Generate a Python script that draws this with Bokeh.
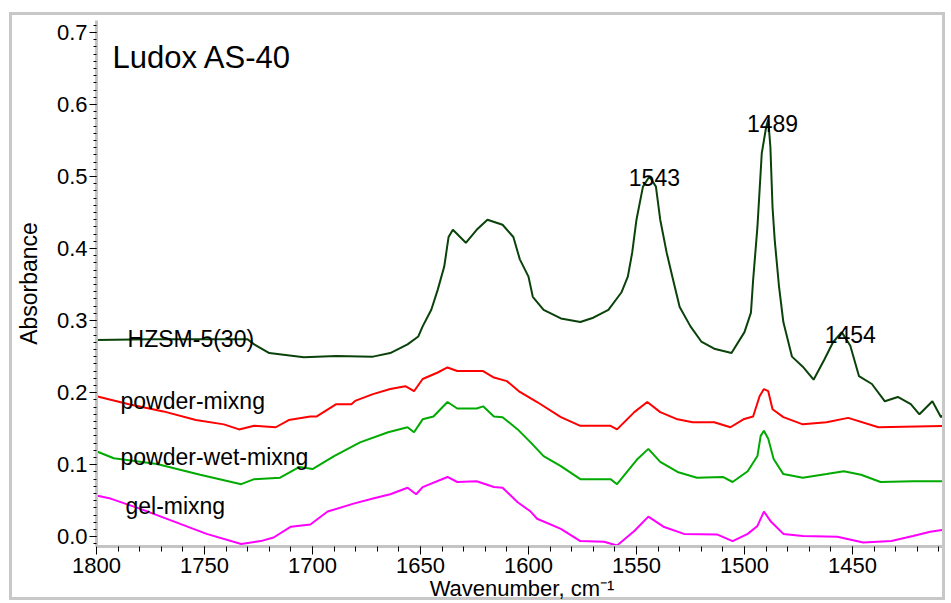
from bokeh.plotting import figure
from bokeh.models import Range1d, Label, PrintfTickFormatter, FixedTicker
from bokeh.embed import file_html
from bokeh.resources import INLINE

# ---- data (wavenumber cm-1, absorbance) ----
hzsm_wn = [1800, 1775, 1746, 1730, 1727, 1720, 1704, 1689, 1672, 1664,
           1656, 1651, 1649, 1645, 1642, 1639, 1637, 1635, 1629, 1624,
           1619, 1612, 1607, 1604, 1600, 1598, 1593, 1585, 1576, 1570,
           1563, 1557, 1554, 1552, 1550, 1547, 1544, 1541, 1539, 1536,
           1533, 1530, 1525, 1520, 1514, 1506, 1500, 1497, 1496, 1494,
           1492, 1490, 1489, 1488, 1487, 1486, 1484, 1482, 1478, 1473,
           1468, 1463, 1459, 1455, 1451, 1447, 1441, 1435, 1429, 1423,
           1419, 1413, 1409, 1406]
hzsm_abs = [0.273, 0.274, 0.274, 0.274, 0.267, 0.255, 0.249, 0.251, 0.250, 0.255,
            0.267, 0.278, 0.292, 0.315, 0.343, 0.375, 0.416, 0.426, 0.408, 0.426,
            0.440, 0.433, 0.416, 0.385, 0.361, 0.333, 0.315, 0.303, 0.298, 0.304,
            0.315, 0.339, 0.361, 0.394, 0.440, 0.486, 0.500, 0.486, 0.440, 0.394,
            0.356, 0.319, 0.292, 0.271, 0.261, 0.255, 0.284, 0.311, 0.356, 0.430,
            0.532, 0.568, 0.579, 0.541, 0.457, 0.412, 0.347, 0.298, 0.250, 0.236,
            0.218, 0.246, 0.270, 0.284, 0.265, 0.223, 0.212, 0.188, 0.194, 0.184,
            0.170, 0.188, 0.166, 0.175]

powder_wn = [1800, 1785, 1769, 1754, 1741, 1734, 1727, 1717, 1711, 1701,
             1698, 1689, 1682, 1680, 1672, 1664, 1657, 1653, 1649, 1642,
             1637.5, 1633, 1621, 1616, 1610, 1604, 1596, 1585, 1576, 1562,
             1559, 1551, 1545, 1539, 1531, 1524, 1514, 1506.5, 1500.5, 1496,
             1493, 1491, 1489, 1487, 1482, 1473, 1462, 1452, 1438, 1405]
powder_abs = [0.195, 0.184, 0.174, 0.162, 0.156, 0.149, 0.154, 0.152, 0.162, 0.167,
              0.167, 0.184, 0.184, 0.189, 0.198, 0.205, 0.209, 0.202, 0.219, 0.228,
              0.235, 0.230, 0.230, 0.221, 0.216, 0.201, 0.187, 0.166, 0.154, 0.154,
              0.149, 0.173, 0.187, 0.173, 0.163, 0.159, 0.159, 0.152, 0.163, 0.167,
              0.195, 0.205, 0.202, 0.177, 0.166, 0.156, 0.159, 0.165, 0.152, 0.154]

wet_wn = [1799.5, 1792, 1772, 1752, 1733, 1727, 1715, 1706, 1700, 1690,
          1678, 1665, 1656, 1653, 1649, 1644, 1637.5, 1633, 1624, 1621,
          1616, 1612, 1605, 1599, 1593, 1585, 1576, 1562, 1559, 1549.5,
          1544.5, 1539, 1531, 1522, 1510, 1505.5, 1498.5, 1494, 1492.5, 1491,
          1489, 1486.5, 1482, 1473, 1462, 1454, 1446, 1437, 1422, 1405]
wet_abs = [0.118, 0.109, 0.101, 0.086, 0.073, 0.080, 0.082, 0.097, 0.094, 0.112,
           0.131, 0.145, 0.152, 0.145, 0.163, 0.167, 0.187, 0.178, 0.178, 0.181,
           0.167, 0.166, 0.149, 0.131, 0.112, 0.098, 0.080, 0.080, 0.073, 0.108,
           0.122, 0.104, 0.090, 0.082, 0.083, 0.076, 0.091, 0.112, 0.140, 0.147,
           0.136, 0.108, 0.087, 0.082, 0.087, 0.091, 0.086, 0.076, 0.077, 0.077]

gel_wn = [1799.5, 1793.5, 1780, 1764, 1749, 1733, 1724, 1718, 1710, 1701,
          1693, 1681, 1672, 1664, 1656, 1652, 1649, 1637.5, 1633, 1624,
          1616, 1612, 1605, 1599, 1596, 1585, 1576, 1565, 1559, 1551,
          1544.5, 1537.5, 1528, 1512.5, 1505.5, 1498.5, 1494, 1491, 1488, 1482,
          1473, 1457, 1445, 1432, 1422, 1414, 1405]
gel_abs = [0.057, 0.053, 0.039, 0.021, 0.004, -0.010, -0.006, -0.001, 0.014, 0.017,
           0.035, 0.046, 0.053, 0.059, 0.068, 0.059, 0.069, 0.083, 0.076, 0.077,
           0.069, 0.068, 0.048, 0.035, 0.025, 0.011, -0.006, -0.007, -0.012, 0.008,
           0.028, 0.014, 0.004, 0.003, -0.006, 0.004, 0.015, 0.035, 0.022, 0.004,
           0.001, 0.000, -0.008, -0.006, 0.001, 0.007, 0.011]

series_names = ["HZSM-5(30)", "powder-mixng", "powder-wet-mixng", "gel-mixng"]
series_colors = ["#0a420a", "#ff0000", "#00aa00", "#ff00ff"]
peak_labels = ["1543", "1489", "1454"]
x_ticks = [1800, 1750, 1700, 1650, 1600, 1550, 1500, 1450]
y_ticks = [0.0, 0.1, 0.2, 0.3, 0.4, 0.5, 0.6, 0.7]

FONT = "Liberation Sans"

p = figure(width=936, height=588, output_backend="svg", toolbar_location=None,
           tools="", x_range=Range1d(1800, 1406), y_range=Range1d(-0.0135, 0.7165),
           min_border_left=84, min_border_right=1, min_border_top=5, min_border_bottom=55)
p.styles = {"margin-left": "9px", "margin-top": "12px",
            "border": "3px solid #c8c8c8", "border-bottom": "none",
            "box-shadow": "inset 0 -3px 0 #c8c8c8"}
p.background_fill_color = "white"
p.border_fill_color = None
p.outline_line_color = None
p.xgrid.grid_line_color = None
p.ygrid.grid_line_color = None

for ax in (p.xaxis[0], p.yaxis[0]):
    ax.axis_line_color = "#c4c4c4"
    ax.axis_line_width = 3
    ax.major_tick_line_color = "black"
    ax.minor_tick_line_color = "black"
    ax.major_label_text_font = FONT
    ax.major_label_text_font_size = "22px"
    ax.major_label_text_color = "black"
    ax.axis_label_text_font = FONT
    ax.axis_label_text_font_size = "22px"
    ax.axis_label_text_font_style = "normal"
    ax.axis_label_text_color = "black"

p.xaxis.ticker = FixedTicker(ticks=x_ticks, minor_ticks=list(range(1400, 1801, 10)))
p.xaxis.major_tick_out = 8
p.xaxis.major_tick_in = 0
p.xaxis.minor_tick_out = 5
p.xaxis.minor_tick_in = 0
p.xaxis.major_label_standoff = 3
p.xaxis.axis_label = "Wavenumber, cm\u207b\u00b9"
p.xaxis.axis_label_standoff = 0

p.yaxis.ticker = FixedTicker(ticks=y_ticks, minor_ticks=[i / 100 for i in range(-1, 72)])
p.yaxis.formatter = PrintfTickFormatter(format="%.1f")
p.yaxis.major_tick_out = 7
p.yaxis.major_tick_in = 0
p.yaxis.minor_tick_out = 3
p.yaxis.minor_tick_in = 0
p.yaxis.major_label_standoff = 2
p.yaxis.axis_label = "Absorbance"
p.yaxis.axis_label_text_font_size = "23px"
p.yaxis.axis_label_standoff = 12

all_wn = [hzsm_wn, powder_wn, wet_wn, gel_wn]
all_abs = [hzsm_abs, powder_abs, wet_abs, gel_abs]
for wn, ab, col in zip(all_wn, all_abs, series_colors):
    p.line(wn, ab, line_color=col, line_width=2)

# series name labels
name_pos = [(1785.6, 0.274), (1788.9, 0.188), (1788.9, 0.111), (1786.6, 0.043)]
for name, (x, y) in zip(series_names, name_pos):
    p.add_layout(Label(x=x, y=y, text=name, text_font=FONT, text_font_size="23px",
                       text_color="black", text_baseline="alphabetic"))

# peak labels
peak_pos = [(1541.7, 0.499), (1487.0, 0.574), (1451.0, 0.281)]
for t, (x, y) in zip(peak_labels, peak_pos):
    p.add_layout(Label(x=x, y=y, text=t, text_font=FONT, text_font_size="23px",
                       text_color="black", text_align="center", text_baseline="alphabetic"))

p.add_layout(Label(x=1792.6, y=0.665, text="Ludox AS-40", text_font=FONT,
                   text_font_size="31px", text_color="black", text_baseline="alphabetic"))

open("out.html", "w").write(file_html(p, INLINE))
